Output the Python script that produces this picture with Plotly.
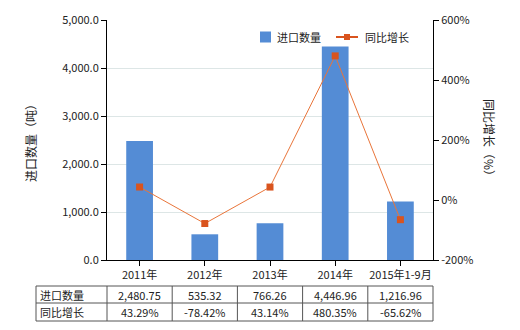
import plotly.graph_objects as go

categories = ["2011年", "2012年", "2013年", "2014年", "2015年1-9月"]
import_qty = [2480.75, 535.32, 766.26, 4446.96, 1216.96]
yoy_growth = [43.29, -78.42, 43.14, 480.35, -65.62]
qty_labels = ["2,480.75", "535.32", "766.26", "4,446.96", "1,216.96"]
growth_labels = ["43.29%", "-78.42%", "43.14%", "480.35%", "-65.62%"]
left_ticks = [0, 1000, 2000, 3000, 4000, 5000]
right_ticks = [-200, 0, 200, 400, 600]

FONT = "Noto Sans CJK SC, Microsoft YaHei, sans-serif"
W, H = 520, 330
L, R, T, B = 107, 87, 20, 70
pw, ph = W - L - R, H - T - B
BAR_COLOR = "#548CD5"
LINE_COLOR = "#E9753A"
MARK_COLOR = "#D9541E"

def px_x(p):
    return (p - L) / pw

def px_y(p):
    return (H - B - p) / ph

fig = go.Figure()
fig.add_trace(go.Bar(x=categories, y=import_qty, name="进口数量",
                     marker=dict(color=BAR_COLOR, line=dict(width=0)),
                     width=0.41, yaxis="y"))
fig.add_trace(go.Scatter(x=categories, y=yoy_growth, name="同比增长",
                         mode="lines+markers", yaxis="y2",
                         line=dict(color=LINE_COLOR, width=1),
                         marker=dict(symbol="square", size=7, color=MARK_COLOR)))

shapes = []
annotations = []
# table lines
row_top, row_mid, row_bot = 286, 303, 321
tbl_left = 36
n = len(categories)
line_style = dict(color="#555555", width=1)
for yy in (row_top, row_mid, row_bot):
    shapes.append(dict(type="line", xref="paper", yref="paper",
                       x0=px_x(tbl_left), x1=1, y0=px_y(yy), y1=px_y(yy), line=line_style))
shapes.append(dict(type="line", xref="paper", yref="paper",
                   x0=px_x(tbl_left), x1=px_x(tbl_left), y0=px_y(row_top), y1=px_y(row_bot), line=line_style))
for k in range(n + 1):
    xk = k / n
    shapes.append(dict(type="line", xref="paper", yref="paper",
                       x0=xk, x1=xk, y0=px_y(row_top), y1=px_y(row_bot), line=line_style))

row_labels = ["进口数量", "同比增长"]
row_values = [qty_labels, growth_labels]
for r, (lab, vals) in enumerate(zip(row_labels, row_values)):
    yc = px_y((row_top + row_mid) / 2 if r == 0 else (row_mid + row_bot) / 2)
    annotations.append(dict(text=lab, xref="paper", yref="paper", x=px_x(tbl_left + 2), y=yc,
                            xanchor="left", yanchor="middle", showarrow=False,
                            font=dict(size=11, color="#222222", family=FONT)))
    for k, v in enumerate(vals):
        annotations.append(dict(text=v, xref="paper", yref="paper", x=(k + 0.5) / n, y=yc,
                                xanchor="center", yanchor="middle", showarrow=False,
                                font=dict(size=11, color="#222222", family=FONT)))

annotations.append(dict(text="进口数量（吨）", xref="paper", yref="paper", x=px_x(30), y=px_y(140),
                        textangle=-90, showarrow=False, xanchor="center", yanchor="middle",
                        font=dict(size=12, color="#222222", family=FONT)))
annotations.append(dict(text="同比增长（%）", xref="paper", yref="paper", x=px_x(490), y=px_y(140),
                        textangle=90, showarrow=False, xanchor="center", yanchor="middle",
                        font=dict(size=12, color="#222222", family=FONT)))

# manual legend
leg_y = 37
shapes.append(dict(type="rect", xref="paper", yref="paper", x0=px_x(260), x1=px_x(271),
                   y0=px_y(leg_y - 5.5), y1=px_y(leg_y + 5.5), fillcolor=BAR_COLOR, line=dict(width=0)))
annotations.append(dict(text=categories and "进口数量", xref="paper", yref="paper", x=px_x(275), y=px_y(leg_y),
                        xanchor="left", yanchor="middle", showarrow=False,
                        font=dict(size=11, color="#222222", family=FONT)))
shapes.append(dict(type="line", xref="paper", yref="paper", x0=px_x(336), x1=px_x(358),
                   y0=px_y(leg_y), y1=px_y(leg_y), line=dict(color=MARK_COLOR, width=2)))
shapes.append(dict(type="rect", xref="paper", yref="paper", x0=px_x(344), x1=px_x(350),
                   y0=px_y(leg_y - 3), y1=px_y(leg_y + 3), fillcolor=MARK_COLOR, line=dict(width=0)))
annotations.append(dict(text="同比增长", xref="paper", yref="paper", x=px_x(363), y=px_y(leg_y),
                        xanchor="left", yanchor="middle", showarrow=False,
                        font=dict(size=11, color="#222222", family=FONT)))

fig.update_layout(
    width=W, height=H,
    margin=dict(l=L, r=R, t=T, b=B, pad=0),
    paper_bgcolor="white", plot_bgcolor="white",
    font=dict(family=FONT, size=11, color="#222222"),
    showlegend=False,
    bargap=0.59,
    xaxis=dict(type="category", showline=True, linecolor="#000000", linewidth=1,
               ticks="outside", ticklen=5, tickcolor="#000000", showgrid=False,
               tickfont=dict(size=11, family=FONT), range=[-0.5, 4.5]),
    yaxis=dict(range=[0, 5000], tickvals=left_ticks, tickformat=",.1f",
               showline=True, linecolor="#000000", linewidth=1,
               ticks="outside", ticklen=5, tickcolor="#000000",
               showgrid=True, gridcolor="#DDE6E6", gridwidth=1, zeroline=False,
               tickfont=dict(size=11, family=FONT)),
    yaxis2=dict(range=[-200, 600], tickvals=right_ticks,
                ticktext=[f"{v}%" for v in right_ticks],
                overlaying="y", side="right", showline=True, linecolor="#000000", linewidth=1,
                ticks="outside", ticklen=5, tickcolor="#000000",
                showgrid=False, zeroline=False, tickfont=dict(size=11, family=FONT)),
    shapes=shapes, annotations=annotations,
)

fig.write_html("out.html")
